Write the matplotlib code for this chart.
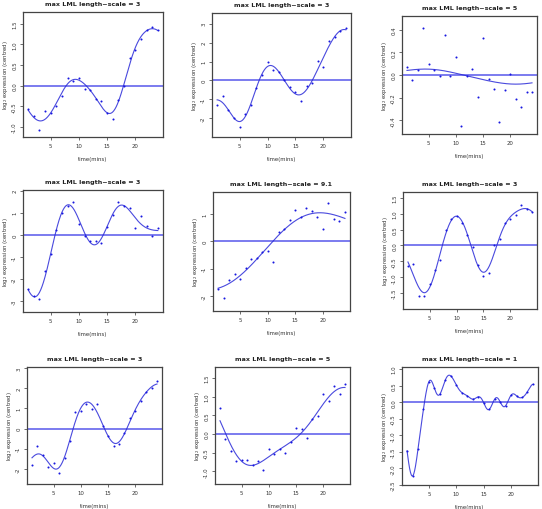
import numpy as np
import matplotlib
matplotlib.use("Agg")
import matplotlib.pyplot as plt

time = list(range(1, 25))

titles = ["max LML length\u2212scale = 3", "max LML length\u2212scale = 3", "max LML length\u2212scale = 5",
          "max LML length\u2212scale = 3", "max LML length\u2212scale = 9.1", "max LML length\u2212scale = 3",
          "max LML length\u2212scale = 3", "max LML length\u2212scale = 5", "max LML length\u2212scale = 1"]
length_scales = [3, 3, 5, 3, 9.1, 3, 3, 5, 1]

g1 = [-0.57, -0.73, -1.07, -0.6, -0.66, -0.5, -0.25, 0.19, 0.12, 0.19, -0.07, -0.1,
      -0.33, -0.36, -0.66, -0.8, -0.35, 0.0, 0.68, 0.87, 1.12, 1.34, 1.42, 1.34]
g2 = [-1.28, -0.82, -1.58, -1.98, -2.46, -1.75, -1.28, -0.4, 0.3, 0.96, 0.58, 0.47,
      0.02, -0.35, -0.61, -1.07, -0.3, -0.12, 1.03, 0.7, 2.1, 2.3, 2.6, 2.75]
g3 = [0.068, -0.04, 0.04, 0.41, 0.1, 0.045, -0.006, 0.35, -0.012, 0.16, -0.45, -0.01,
      0.053, -0.19, 0.33, -0.035, -0.12, -0.41, -0.13, 0.012, -0.21, -0.285, -0.15, -0.147]
g4 = [-2.45, -2.78, -2.93, -1.65, -0.87, 0.21, 1.0, 1.3, 1.5, 0.51, -0.05, -0.27,
      -0.27, -0.35, 0.36, 0.89, 1.49, 1.3, 1.2, 0.31, 0.86, 0.4, -0.05, 0.31]
g5 = [-1.73, -2.05, -1.41, -1.18, -1.36, -0.96, -0.63, -0.61, -0.39, -0.35, -0.75, 0.34,
      0.44, 0.77, 1.14, 0.89, 1.22, 1.11, 0.9, 0.46, 1.39, 0.83, 0.74, 1.07]
g6 = [-0.65, -0.58, -1.58, -1.58, -1.21, -0.76, -0.47, 0.49, 0.82, 0.92, 0.7, 0.32,
      -0.06, -0.61, -0.95, -0.88, 0.02, 0.21, 0.72, 0.84, 0.95, 1.28, 1.14, 1.05]
g7 = [-1.8, -0.86, -1.3, -1.92, -1.7, -2.21, -1.45, -0.64, 0.84, 0.89, 1.19, 0.98,
      1.2, 0.12, -0.35, -0.84, -0.76, -0.23, 0.51, 0.89, 1.37, 1.8, 2.0, 2.33]
g8 = [0.7, -0.13, -0.46, -0.72, -0.71, -0.69, -0.83, -0.72, -0.96, -0.4, -0.54, -0.4,
      -0.5, -0.22, 0.16, 0.12, -0.11, 0.4, 0.47, 1.06, 0.89, 1.29, 1.06, 1.33]
g9 = [-1.47, -2.23, -1.42, -0.21, 0.62, 0.42, 0.24, 0.67, 0.79, 0.52, 0.29, 0.19,
      0.09, 0.16, -0.02, -0.22, 0.09, 0.01, -0.11, 0.21, 0.19, 0.14, 0.32, 0.54]
genes = [g1, g2, g3, g4, g5, g6, g7, g8, g9]

# GP hyperparameters (signal variance, noise variance)
signal_var = [0.6, 2.0, 0.005, 1.8, 1.2, 0.8, 2.0, 0.6, 0.8]
noise_var = [0.015, 0.06, 0.04, 0.04, 0.08, 0.015, 0.07, 0.03, 0.0005]

yticks = [[-1.0, -0.5, 0.0, 0.5, 1.0, 1.5], [-2, -1, 0, 1, 2, 3], [-0.4, -0.2, 0.0, 0.2, 0.4],
          [-3, -2, -1, 0, 1, 2], [-2, -1, 0, 1], [-1.5, -1.0, -0.5, 0.0, 0.5, 1.0, 1.5],
          [-2, -1, 0, 1, 2, 3], [-1.0, -0.5, 0.0, 0.5, 1.0, 1.5],
          [-2.5, -2.0, -1.5, -1.0, -0.5, 0.0, 0.5, 1.0]]
ylims = [(-1.24, 1.78), (-2.98, 3.56), (-0.52, 0.52), (-3.5, 2.03), (-2.54, 1.8),
         (-2.0, 1.68), (-2.74, 3.04), (-1.34, 1.79), (-2.5, 1.06)]
xticks = [5, 10, 15, 20]

# axes boxes in pixels: left, top, right, bottom
boxes = [(23, 13, 163, 138), (212, 14, 351, 138), (402, 17, 537, 135),
         (23, 191, 163, 313), (213, 193, 350, 312), (403, 193, 537, 310),
         (27, 368, 162, 485), (215, 368, 350, 485), (402, 368, 538, 486)]

W, H = 542, 510
fig = plt.figure(figsize=(W / 100, H / 100), dpi=100)
fig.patch.set_facecolor("white")

def gp_mean(t, y, l, sf2, sn2, grid):
    t = np.asarray(t, float)
    y = np.asarray(y, float)
    K = sf2 * np.exp(-0.5 * (t[:, None] - t[None, :]) ** 2 / l ** 2) + sn2 * np.eye(len(t))
    Ks = sf2 * np.exp(-0.5 * (grid[:, None] - t[None, :]) ** 2 / l ** 2)
    return Ks @ np.linalg.solve(K, y)

blue = "#2a2ad8"
grid = np.linspace(1, 24, 300)
fs = 4.2
for i in range(9):
    l, tp, r, b = boxes[i]
    ax = fig.add_axes([l / W, 1 - b / H, (r - l) / W, (b - tp) / H])
    y = genes[i]
    mu = gp_mean(time, y, length_scales[i], signal_var[i], noise_var[i], grid)
    ax.axhline(0, color="#3a3ae8", lw=1.1, alpha=0.85, zorder=1)
    ax.plot(grid, mu, color=blue, lw=0.8, alpha=0.85, zorder=2)
    ax.scatter(time, y, s=2.2, color="#1818e0", zorder=3, linewidths=0)
    ax.set_xlim(0.08, 24.92)
    ax.set_ylim(*ylims[i])
    ax.set_xticks(xticks)
    ax.set_yticks(yticks[i])
    ax.set_yticklabels([str(v) for v in yticks[i]], rotation=90, va="center")
    ax.tick_params(labelsize=fs - 0.3, length=2.2, width=0.5, pad=2, colors="#333333")
    for s in ax.spines.values():
        s.set_linewidth(0.9)
        s.set_color("#444444")
    ax.set_title(titles[i], fontsize=fs + 0.4, fontweight="bold", pad=5, color="#222222")
    ax.set_xlabel("time(mins)", fontsize=fs - 0.3, labelpad=6, color="#333333")
    ax.set_ylabel("log$_2$ expression (centred)", fontsize=fs - 0.3, labelpad=1.5, color="#333333")

fig.savefig("out.png", dpi=100)
